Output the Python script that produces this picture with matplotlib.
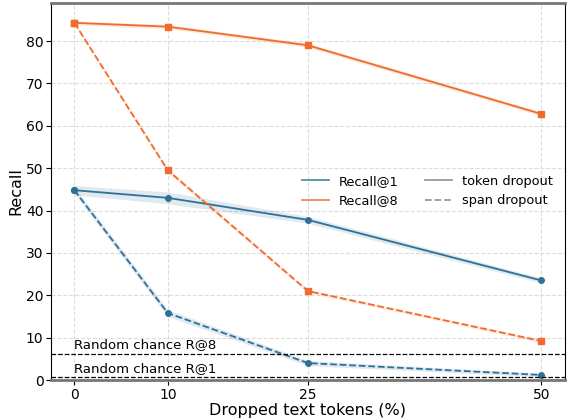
import matplotlib
matplotlib.use("Agg")
import numpy as np
import matplotlib.pyplot as plt
from matplotlib.lines import Line2D

# dropped text tokens (%)
drop = [0, 10, 25, 50]

r1_token = [44.8, 43.0, 37.8, 23.5]
r1_token_std = [1.1, 1.4, 0.8, 0.6]
r1_span = [44.8, 15.8, 4.0, 1.2]
r1_span_std = [0.8, 0.8, 0.6, 0.4]

r8_token = [84.3, 83.4, 79.0, 62.8]
r8_token_std = [0.5, 0.5, 0.5, 0.5]
r8_span = [84.3, 49.5, 21.0, 9.2]
r8_span_std = [0.4, 0.5, 0.4, 0.4]

# random chance with 128 candidates, in percent
chance_r8 = 100 * 8 / 128
chance_r1 = 100 * 1 / 128

blue = '#2e7197'
orange = '#f06b2c'

fig = plt.figure(figsize=(5.67, 4.19), dpi=100)
ax = fig.add_axes([0.09, 0.093, 0.906, 0.9])

def draw(y, std, color, marker, ls):
    y = np.array(y)
    std = np.array(std)
    ax.fill_between(drop, y - std, y + std, color=color, alpha=0.15, lw=0)
    ax.plot(drop, y, color=color, marker=marker, ms=4, lw=1.3, ls=ls)

draw(r1_token, r1_token_std, blue, 'o', '-')
draw(r1_span, r1_span_std, blue, 'o', '--')
draw(r8_token, r8_token_std, orange, 's', '-')
draw(r8_span, r8_span_std, orange, 's', '--')

ax.axhline(chance_r8, color='black', ls='--', lw=0.9)
ax.axhline(chance_r1, color='black', ls='--', lw=0.9)
ax.text(0, chance_r8 + 1.2, 'Random chance R@8', fontsize=9.5)
ax.text(0, chance_r1 + 1.2, 'Random chance R@1', fontsize=9.5)

ax.set_xticks(drop)
ax.set_xlim(-2.5, 52.5)
ax.set_ylim(0, 89)
ax.tick_params(labelsize=10, pad=2)
ax.grid(True, ls='--', color='#dddddd', lw=0.8)
ax.set_axisbelow(True)
ax.set_xlabel('Dropped text tokens (%)', fontsize=11.5, labelpad=1)
ax.set_ylabel('Recall', fontsize=11.5, labelpad=2)

for s in ['top', 'bottom']:
    ax.spines[s].set_color('#777777')
    ax.spines[s].set_linewidth(2)

handles = [
    Line2D([], [], color=blue, lw=1.3, alpha=0.8),
    Line2D([], [], color=orange, lw=1.3, alpha=0.8),
    Line2D([], [], color='gray', lw=1.3, alpha=0.8),
    Line2D([], [], color='gray', lw=1.3, ls='--', alpha=0.8),
]
labels = ['Recall@1', 'Recall@8', 'token dropout', 'span dropout']
ax.legend(handles, labels, ncol=2, frameon=False, fontsize=9.3,
          loc='upper right', bbox_to_anchor=(1.0, 0.575), handlelength=2.1,
          handletextpad=0.8, columnspacing=2.0, labelspacing=0.5)

fig.savefig('out.png', dpi=100)
